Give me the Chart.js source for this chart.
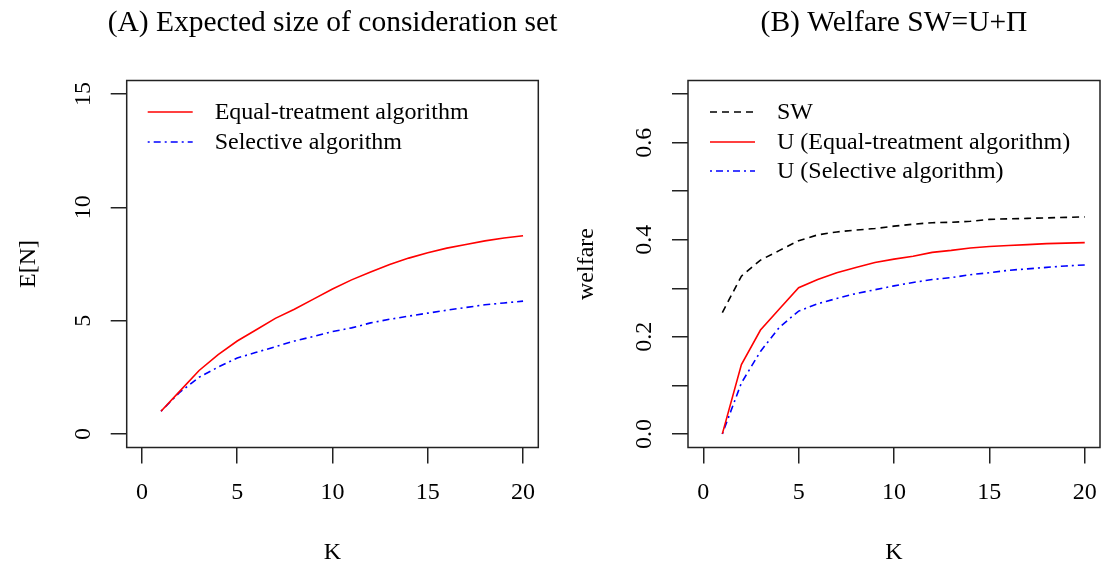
<!DOCTYPE html>
<html><head><meta charset="utf-8">
<script src="https://cdn.jsdelivr.net/npm/chart.js@4/dist/chart.umd.min.js"></script>
<style>
html,body{margin:0;padding:0;background:#fff;overflow:hidden}
#wrap{position:relative;width:1101px;height:563px;background:#fff}
canvas{position:absolute;top:0}
</style></head><body>
<div id="wrap">
<canvas id="cA" width="560" height="563" style="left:0px"></canvas>
<canvas id="cB" width="541" height="563" style="left:560px"></canvas>
</div>
<script>
// ---- data ----
const K = [1,2,3,4,5,6,7,8,9,10,11,12,13,14,15,16,17,18,19,20];
const equalEN =     [1.0,1.9,2.8,3.5,4.1,4.6,5.1,5.5,5.95,6.4,6.8,7.15,7.48,7.76,8.0,8.2,8.36,8.52,8.65,8.75];
const selectiveEN = [1.0,1.85,2.5,2.95,3.35,3.6,3.85,4.1,4.3,4.52,4.68,4.9,5.06,5.2,5.33,5.46,5.58,5.7,5.78,5.86];
const SW =          [0.25,0.325,0.358,0.378,0.398,0.41,0.416,0.42,0.423,0.428,0.432,0.435,0.436,0.438,0.442,0.443,0.444,0.445,0.446,0.447];
const U_equal =     [0.0,0.143,0.214,0.258,0.301,0.318,0.332,0.343,0.353,0.36,0.366,0.374,0.378,0.383,0.386,0.388,0.39,0.392,0.393,0.394];
const U_selective = [0.0,0.105,0.17,0.22,0.253,0.268,0.279,0.289,0.297,0.305,0.312,0.318,0.322,0.328,0.332,0.337,0.34,0.343,0.346,0.348];
const xTicks = [0,5,10,15,20];
const yTicksA = [0,5,10,15];
const yTickLabelsA = ['0','5','10','15'];
const yTicksB = [0,0.1,0.2,0.3,0.4,0.5,0.6,0.7];
const yTickLabelsB = ['0.0','','0.2','','0.4','','0.6',''];

const FONT = '"Liberation Serif","Times New Roman",serif';
const AXC = '#222';

function pts(ys){ return K.map((k,i)=>({x:k,y:ys[i]})); }

const rPlugin = {
  id: 'rbase',
  afterDraw(chart, args, o) {
    const ctx = chart.ctx, a = chart.chartArea;
    const xs = chart.scales.x, ys = chart.scales.y;
    ctx.save();
    // box
    ctx.strokeStyle = AXC; ctx.lineWidth = 1.5; ctx.setLineDash([]);
    ctx.strokeRect(a.left, a.top, a.right - a.left, a.bottom - a.top);
    ctx.fillStyle = '#000';
    // x tick labels
    ctx.font = '24px ' + FONT;
    ctx.textAlign = 'center'; ctx.textBaseline = 'middle';
    xs.ticks.forEach(t => ctx.fillText(String(t.value), xs.getPixelForValue(t.value), o.xLabY));
    // y tick labels rotated
    ys.ticks.forEach((t, i) => {
      const lab = o.yLabels[i];
      if (!lab) return;
      ctx.save();
      ctx.translate(a.left - o.yLabOff, ys.getPixelForValue(t.value));
      ctx.rotate(-Math.PI / 2);
      ctx.fillText(lab, 0, 0);
      ctx.restore();
    });
    // axis titles
    ctx.fillText(o.xTitle, (a.left + a.right) / 2, o.xTitleY);
    ctx.save();
    ctx.translate(a.left - o.yTitleOff, (a.top + a.bottom) / 2);
    ctx.rotate(-Math.PI / 2);
    ctx.fillText(o.yTitle, 0, 0);
    ctx.restore();
    // main title
    ctx.font = '29.5px ' + FONT;
    ctx.fillText(o.title, (a.left + a.right) / 2, o.titleY);
    // legend
    ctx.font = '24px ' + FONT;
    ctx.textAlign = 'left';
    chart.data.datasets.forEach((d, i) => {
      const y = o.legY[i];
      ctx.strokeStyle = d.borderColor; ctx.lineWidth = d.borderWidth;
      ctx.setLineDash(d.borderDash || []);
      ctx.beginPath(); ctx.moveTo(a.left + o.legX0, y); ctx.lineTo(a.left + o.legX1, y); ctx.stroke();
      ctx.fillStyle = '#000';
      ctx.fillText(d.label, a.left + o.legTX, y + 1);
    });
    ctx.restore();
  }
};

function makeChart(id, datasets, yMin, yMax, yTicks, yLabels, conf) {
  return new Chart(document.getElementById(id), {
    type: 'line',
    data: { datasets },
    plugins: [rPlugin],
    options: {
      responsive: false, animation: false, devicePixelRatio: 1,
      layout: { padding: { left: 0, top: conf.top, right: conf.right, bottom: 0 } },
      plugins: { legend: { display: false }, tooltip: { enabled: false }, title: { display: false },
        rbase: conf.plug },
      elements: { point: { radius: 0 }, line: { tension: 0 } },
      scales: {
        x: {
          type: 'linear', min: -0.8, max: 20.8,
          afterBuildTicks: s => { s.ticks = xTicks.map(v => ({ value: v })); },
          afterFit: s => { s.height = conf.xH; },
          ticks: { display: false },
          grid: { display: true, drawOnChartArea: false, drawTicks: true, tickLength: 16, color: AXC, lineWidth: 1.5 },
          border: { display: false }
        },
        y: {
          type: 'linear', min: yMin, max: yMax,
          afterBuildTicks: s => { s.ticks = yTicks.map(v => ({ value: v })); },
          afterFit: s => { s.width = conf.yW; },
          ticks: { display: false },
          grid: { display: true, drawOnChartArea: false, drawTicks: true, tickLength: 16, color: AXC, lineWidth: 1.5 },
          border: { display: false }
        }
      }
    }
  });
}

const TOP = 80.5, BOTTOM = 447.5;

makeChart('cA', [
  { label: 'Equal-treatment algorithm', data: pts(equalEN), borderColor: '#ff0000', borderWidth: 1.6, fill: false },
  { label: 'Selective algorithm', data: pts(selectiveEN), borderColor: '#0000ff', borderWidth: 1.6, borderDash: [2,4,7,4], fill: false }
], -0.6, 15.6, yTicksA, yTickLabelsA, {
  top: TOP, right: 560 - 538.3, xH: 563 - BOTTOM, yW: 126.7,
  plug: { title: '(A) Expected size of consideration set', titleY: 23, xTitle: 'K', yTitle: 'E[N]',
    xLabY: 493, xTitleY: 553, yLabOff: 43, yTitleOff: 98, yLabels: yTickLabelsA,
    legX0: 21, legX1: 66, legTX: 88, legY: [112, 142] }
});

makeChart('cB', [
  { label: 'SW', data: pts(SW), borderColor: '#000000', borderWidth: 1.6, borderDash: [7,5], fill: false },
  { label: 'U (Equal-treatment algorithm)', data: pts(U_equal), borderColor: '#ff0000', borderWidth: 1.6, fill: false },
  { label: 'U (Selective algorithm)', data: pts(U_selective), borderColor: '#0000ff', borderWidth: 1.6, borderDash: [2,4,7,4], fill: false }
], -0.028, 0.728, yTicksB, yTickLabelsB, {
  top: TOP, right: 541 - 540, xH: 563 - BOTTOM, yW: 128,
  plug: { title: '(B) Welfare SW=U+\u03A0', titleY: 23, xTitle: 'K', yTitle: 'welfare',
    xLabY: 493, xTitleY: 553, yLabOff: 43, yTitleOff: 101, yLabels: yTickLabelsB,
    legX0: 22, legX1: 67, legTX: 89, legY: [112, 142, 171] }
});
</script>
</body></html>
